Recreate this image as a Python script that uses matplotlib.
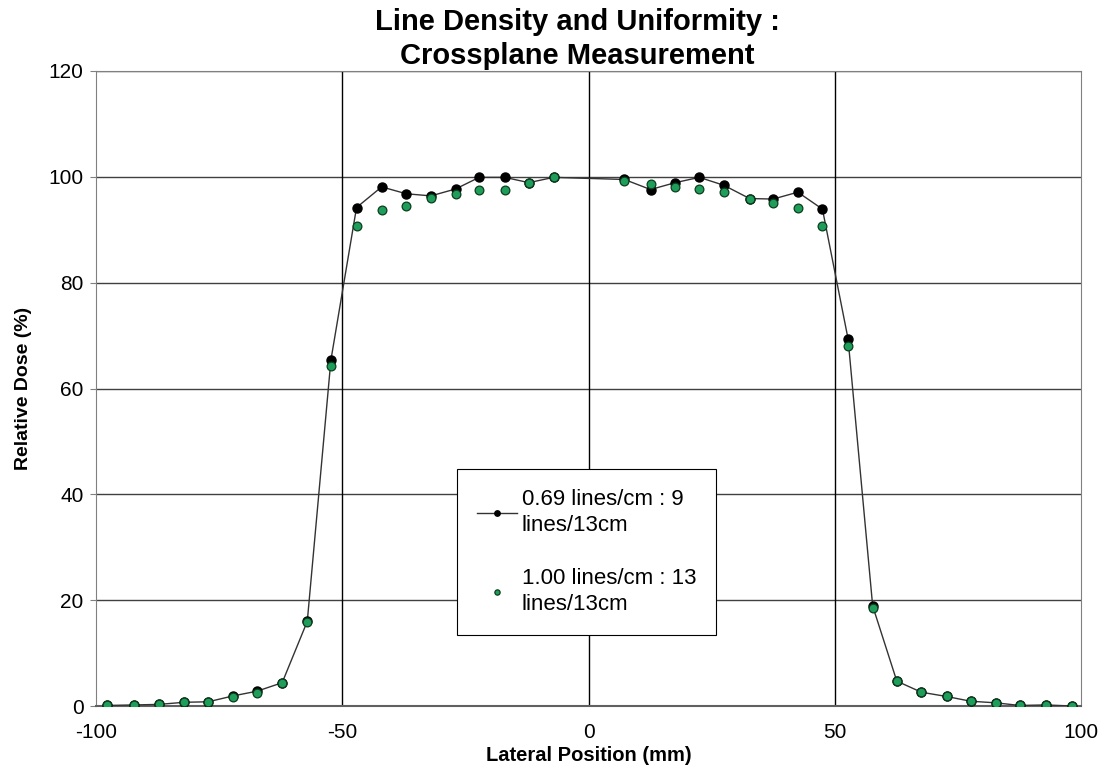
import matplotlib
matplotlib.use("Agg")
import matplotlib.pyplot as plt

plt.rcParams['font.family'] = ['Liberation Sans', 'DejaVu Sans']
plt.rcParams['axes.unicode_minus'] = False

# Lateral positions (mm)
positions = [-97.7, -92.3, -87.3, -82.1, -77.2, -72.2, -67.3, -62.2, -57.1, -52.3,
             -47.1, -42.0, -37.0, -32.0, -27.0, -22.2, -17.0, -12.1, -7.1,
             7.3, 12.6, 17.6, 22.5, 27.5, 32.7, 37.5, 42.5, 47.5, 52.7, 57.7,
             62.6, 67.6, 72.7, 77.6, 82.7, 87.6, 92.8, 98.1]

# 0.69 lines/cm : 9 lines/13cm
dose_069 = [0.1, 0.2, 0.3, 0.7, 0.8, 1.9, 2.8, 4.4, 16.0, 65.4, 94.2, 98.1, 96.8, 96.4,
            97.7, 99.9, 99.9, 98.9, 99.9, 99.5, 97.6, 98.9, 99.9, 98.4, 95.9, 95.8,
            97.1, 93.9, 69.4, 18.9, 4.7, 2.6, 1.8, 0.9, 0.6, 0.1, 0.2, 0.0]

# 1.00 lines/cm : 13 lines/13cm
dose_100 = [0.1, 0.2, 0.3, 0.7, 0.8, 1.7, 2.5, 4.3, 15.9, 64.3, 90.8, 93.8, 94.4, 96.0,
            96.7, 97.5, 97.6, 98.9, 99.9, 99.2, 98.7, 98.1, 97.7, 97.1, 95.9, 95.0,
            94.2, 90.8, 68.1, 18.6, 4.7, 2.6, 1.8, 0.9, 0.6, 0.1, 0.2, 0.0]

x_ticks = [-100, -50, 0, 50, 100]
y_ticks = [0, 20, 40, 60, 80, 100, 120]

fig = plt.figure(figsize=(11.04, 7.69), dpi=100)
ax = fig.add_axes([96 / 1104, 1 - 706 / 769, 985 / 1104, 635 / 769])

ax.set_xlim(-100, 100)
ax.set_ylim(0, 120)
ax.set_xticks(x_ticks)
ax.set_yticks(y_ticks)

# grid: horizontal dark gray, vertical black
for y in y_ticks[1:]:
    ax.axhline(y, color='#404040', lw=1.0, zorder=1)
for x in [-50, 0, 50]:
    ax.axvline(x, color='black', lw=1.0, zorder=1)

ax.plot(positions, dose_069, color='#333333', lw=1.0, marker='o', markersize=6.5,
        markerfacecolor='black', markeredgecolor='black', zorder=3,
        label='0.69 lines/cm : 9\nlines/13cm')
ax.plot(positions, dose_100, linestyle='none', marker='o', markersize=6.3,
        markerfacecolor='#1e9e5a', markeredgecolor='#0b3d1e', markeredgewidth=0.9,
        zorder=4, label='1.00 lines/cm : 13\nlines/13cm')

for side in ['left', 'right', 'top']:
    ax.spines[side].set_color('#808080')
ax.spines['bottom'].set_color('#606060')
ax.spines['bottom'].set_linewidth(1.5)

ax.tick_params(axis='both', labelsize=15, colors='black', length=4, width=0.8)
ax.tick_params(axis='y', color='#808080', pad=5)
ax.tick_params(axis='x', length=0, pad=12)

ax.set_xlabel('Lateral Position (mm)', fontsize=14.5, fontweight='bold', labelpad=3)
ax.set_ylabel('Relative Dose (%)', fontsize=14, fontweight='bold', labelpad=12)

fig.suptitle('Line Density and Uniformity :\nCrossplane Measurement', fontsize=21,
             fontweight='bold', x=577 / 1104, y=1 - 8 / 769, va='top', linespacing=1.28)

leg = ax.legend(loc='upper left', bbox_to_anchor=(0.367, 0.373), fontsize=16,
                frameon=True, fancybox=False, edgecolor='black', framealpha=1,
                handlelength=1.8, handletextpad=0.2, labelspacing=1.45,
                borderpad=0.9, borderaxespad=0, markerscale=0.6)
leg.get_frame().set_linewidth(0.8)
for t in leg.get_texts():
    t.set_linespacing(1.3)

fig.savefig('out.png', dpi=100)
